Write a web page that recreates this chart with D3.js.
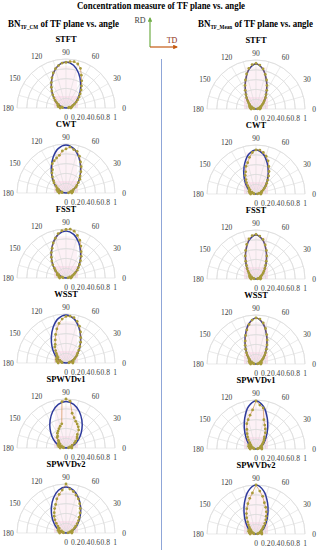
<!DOCTYPE html>
<html><head><meta charset="utf-8">
<script src="https://cdn.jsdelivr.net/npm/d3@7"></script>
<style>body{margin:0;background:#fff}svg{display:block}</style>
</head><body>
<script>
// ---------- data ----------
const methods = ["STFT","CWT","FSST","WSST","SPWVDv1","SPWVDv2"];
const angleTicks = [0,30,60,90,120,150,180];
const radialTicks = [0,0.2,0.4,0.6,0.8,1];
// measured angles (deg) for the dots
const angles = [0,5,10,15,20,25,30,35,40,45,50,55,60,65,70,75,80,85,90,95,100,105,110,115,120,125,130,135,140,145,150,155,160,165,170,175,180];
// fit angles (deg)
const fitAngles = [0,10,20,30,40,50,60,70,80,90,100,110,120,130,140,150,160,170,180];

// Left column: BN_TF_CM
const cmSTFT   = [.10,.05,.12,.07,.15,.19,.24,.29,.35,.41,.48,.55,.64,.74,.86,.93,.96,.95,.93,.92,.88,.83,.76,.68,.60,.52,.45,.38,.32,.27,.22,.17,.18,.09,.16,.07,.12];
const cmCWT    = [.12,.05,.14,.09,.12,.17,.23,.27,.33,.40,.45,.53,.62,.70,.80,.88,.90,.94,.90,.86,.78,.74,.70,.66,.55,.50,.43,.36,.32,.25,.21,.16,.20,.09,.17,.08,.14];
const cmFSST   = [.10,.04,.12,.08,.14,.18,.22,.28,.33,.39,.46,.54,.62,.72,.82,.90,.97,1.0,.99,.97,.92,.84,.76,.67,.60,.52,.45,.38,.31,.26,.21,.16,.19,.09,.15,.06,.13];
const cmWSST   = [.14,.06,.15,.09,.15,.19,.22,.27,.31,.37,.44,.52,.60,.70,.80,.88,.94,.96,.95,.90,.82,.72,.62,.52,.44,.40,.33,.28,.24,.20,.22,.14,.21,.10,.19,.08,.16];
const cmSPWVD1 = [.12,.05,.10,.08,.13,.14,.20,.24,.30,.32,.36,.45,.50,.54,.58,.64,.72,.96,1.0,.95,.50,.46,.42,.38,.35,.30,.28,.22,.19,.15,.18,.10,.17,.06,.15,.05,.12];
const cmSPWVD2 = [.12,.04,.13,.08,.12,.15,.20,.24,.30,.36,.42,.50,.58,.66,.74,.80,.86,.90,1.0,.88,.80,.72,.62,.55,.48,.42,.35,.28,.22,.17,.18,.10,.17,.06,.15,.05,.13];

// Right column: BN_TF_Mean
const mnSTFT   = [.08,.03,.09,.06,.10,.10,.13,.16,.20,.24,.30,.36,.44,.53,.63,.73,.83,.90,.93,.91,.84,.74,.63,.53,.44,.36,.30,.24,.20,.16,.15,.10,.14,.06,.12,.04,.10];
const mnCWT    = [.10,.03,.11,.07,.12,.13,.17,.21,.26,.31,.37,.45,.53,.62,.72,.80,.86,.90,.90,.85,.76,.66,.60,.50,.44,.36,.30,.24,.19,.15,.16,.09,.15,.05,.13,.04,.11];
const mnFSST   = [.09,.03,.10,.05,.09,.10,.12,.15,.19,.23,.28,.34,.42,.52,.62,.72,.82,.88,.91,.89,.83,.73,.62,.52,.42,.34,.28,.23,.19,.15,.15,.10,.14,.05,.12,.04,.10];
const mnWSST   = [.10,.03,.11,.06,.11,.10,.13,.16,.20,.25,.30,.37,.45,.54,.64,.75,.85,.92,.94,.90,.82,.72,.62,.52,.44,.37,.30,.25,.20,.16,.16,.10,.15,.06,.13,.04,.11];
const mnSPWVD1 = [.12,.03,.12,.05,.12,.10,.12,.15,.18,.22,.26,.30,.38,.45,.52,.62,.85,.90,.98,.80,.70,.62,.55,.44,.36,.30,.24,.18,.15,.12,.17,.08,.16,.05,.14,.04,.12];
const mnSPWVD2 = [.12,.03,.12,.05,.11,.09,.12,.14,.18,.22,.28,.35,.42,.50,.58,.66,.78,.88,1.0,.84,.74,.64,.55,.46,.38,.30,.24,.19,.15,.12,.17,.08,.16,.05,.14,.04,.12];

// fitted curves (10 deg steps)
const cmFitSTFT   = [0,.068,.141,.225,.326,.45,.597,.755,.887,.94,.887,.755,.597,.45,.326,.225,.141,.068,0];
const cmFitCWT    = [0,.065,.136,.218,.319,.445,.599,.771,.919,.98,.919,.771,.599,.445,.319,.218,.136,.065,0];
const cmFitFSST   = [0,.066,.138,.220,.322,.447,.598,.765,.905,.96,.905,.765,.598,.447,.322,.220,.138,.066,0];
const cmFitWSST   = [0,.065,.136,.218,.319,.445,.599,.771,.919,.98,.919,.771,.599,.445,.319,.218,.136,.065,0];
const cmFitSPWVD1 = [0,.081,.167,.263,.375,.505,.649,.793,.906,.95,.906,.793,.649,.505,.375,.263,.167,.081,0];
const cmFitSPWVD2 = [0,.068,.141,.225,.326,.45,.597,.755,.887,.94,.887,.755,.597,.45,.326,.225,.141,.068,0];
const mnFitSTFT   = [0,.0375,.079,.130,.199,.295,.432,.620,.822,.92,.822,.620,.432,.295,.199,.130,.079,.0375,0];
const mnFitCWT    = [0,.049,.103,.168,.25,.358,.50,.67,.83,.90,.83,.67,.50,.358,.25,.168,.103,.049,0];
const mnFitFSST   = [0,.036,.076,.126,.193,.287,.422,.607,.805,.90,.805,.607,.422,.287,.193,.126,.076,.036,0];
const mnFitWSST   = [0,.039,.082,.134,.205,.302,.44,.63,.835,.94,.835,.63,.44,.302,.205,.134,.082,.039,0];
const mnFitSPWVD1 = [0,.042,.088,.145,.22,.325,.474,.672,.88,.98,.88,.672,.474,.325,.22,.145,.088,.042,0];
const mnFitSPWVD2 = [0,.044,.092,.150,.228,.335,.485,.685,.895,1.0,.895,.685,.485,.335,.228,.150,.092,.044,0];

const leftData  = [cmSTFT,cmCWT,cmFSST,cmWSST,cmSPWVD1,cmSPWVD2];
const rightData = [mnSTFT,mnCWT,mnFSST,mnWSST,mnSPWVD1,mnSPWVD2];
const leftFit   = [cmFitSTFT,cmFitCWT,cmFitFSST,cmFitWSST,cmFitSPWVD1,cmFitSPWVD2];
const rightFit  = [mnFitSTFT,mnFitCWT,mnFitFSST,mnFitWSST,mnFitSPWVD1,mnFitSPWVD2];

// ---------- drawing ----------
const W = 321, H = 550;
const svg = d3.select("body").append("svg").attr("width", W).attr("height", H);
const serif = "'Liberation Serif','Times New Roman',serif";
const R = 49;
const rScale = d3.scaleLinear().domain([0,1]).range([0,R]);
const toRad = d => (90 - d) * Math.PI / 180;

// main title
svg.append("text").attr("x",161).attr("y",9).attr("text-anchor","middle")
  .attr("font-family",serif).attr("font-weight","bold").attr("font-size",9.5)
  .attr("textLength",168).attr("lengthAdjust","spacingAndGlyphs")
  .text("Concentration measure of TF plane vs. angle");

function subtitle(x, sub, len){
  const t = svg.append("text").attr("x",x).attr("y",27)
    .attr("font-family",serif).attr("font-weight","bold").attr("font-size",9.5)
    .attr("textLength",len).attr("lengthAdjust","spacingAndGlyphs");
  t.append("tspan").text("BN");
  t.append("tspan").attr("font-size",5.5).attr("dy",1.5).text(sub);
  t.append("tspan").attr("dy",-1.5).text(" of TF plane vs. angle");
}
subtitle(8, "TF_CM", 111);
subtitle(198, "TF_Mean", 115);

// RD / TD arrows
const defs = svg.append("defs");
function marker(id, color){
  defs.append("marker").attr("id",id).attr("viewBox","0 0 10 10").attr("refX",8).attr("refY",5)
    .attr("markerWidth",4).attr("markerHeight",4).attr("orient","auto")
    .append("path").attr("d","M0,0L10,5L0,10z").attr("fill",color);
}
marker("ag","#70ad47"); marker("ao","#c55a11");
svg.append("line").attr("x1",150).attr("y1",47).attr("x2",150).attr("y2",18)
  .attr("stroke","#70ad47").attr("stroke-width",1.2).attr("marker-end","url(#ag)");
svg.append("line").attr("x1",150).attr("y1",47).attr("x2",177).attr("y2",47)
  .attr("stroke","#c55a11").attr("stroke-width",1.2).attr("marker-end","url(#ao)");
svg.append("text").attr("x",140).attr("y",23).attr("text-anchor","middle")
  .attr("font-family",serif).attr("font-size",8).style("fill","#404040").text("RD");
svg.append("text").attr("x",172).attr("y",43).attr("text-anchor","middle")
  .attr("font-family",serif).attr("font-size",8).style("fill","#8b2d10").text("TD");

// divider
svg.append("line").attr("x1",161.5).attr("x2",161.5).attr("y1",59).attr("y2",550)
  .attr("stroke","#8fa6d8").attr("stroke-width",1);

const arc = d3.arc();
const fitLine = d3.lineRadial().angle((d,i)=>toRad(fitAngles[i])).radius(d=>rScale(d)).curve(d3.curveCatmullRom);
const dataLine = d3.lineRadial().angle((d,i)=>toRad(angles[i])).radius(d=>rScale(d));

function panel(cx, cy, title, data, fit){
  const g = svg.append("g").attr("transform",`translate(${cx},${cy})`);
  // faint pink shading
  g.append("rect").attr("x",-11).attr("y",-R*0.85).attr("width",22).attr("height",R*0.85)
    .attr("fill","#fdf1f6");
  g.append("rect").attr("x",-12).attr("y",-12).attr("width",24).attr("height",12)
    .attr("fill","#fbe1ed");
  // grid arcs
  radialTicks.filter(d=>d>0).forEach(t=>{
    g.append("path").attr("d", arc({innerRadius:rScale(t), outerRadius:rScale(t), startAngle:-Math.PI/2, endAngle:Math.PI/2}))
      .attr("fill","none").attr("stroke","#dcdcdc").attr("stroke-width",0.7);
  });
  d3.range(0,181,15).forEach(a=>{
    g.append("line").attr("x1",0).attr("y1",0)
      .attr("x2",rScale(1)*Math.cos(a*Math.PI/180)).attr("y2",-rScale(1)*Math.sin(a*Math.PI/180))
      .attr("stroke","#dcdcdc").attr("stroke-width",0.6);
  });
  // angle labels
  angleTicks.forEach(a=>{
    const rr = R + (a===90?7:(a===0||a===180?9:10));
    g.append("text").attr("x",rr*Math.cos(a*Math.PI/180)).attr("y",-rr*Math.sin(a*Math.PI/180)+2.5)
      .attr("text-anchor","middle").attr("font-family",serif).attr("font-size",7.5).style("fill","#404040")
      .text(a);
  });
  // radial labels
  radialTicks.forEach(t=>{
    g.append("text").attr("x",rScale(t)).attr("y",12).attr("text-anchor","middle")
      .attr("font-family",serif).attr("font-size",7.5).style("fill","#404040")
      .text(d3.format("~g")(t));
  });
  // title
  g.append("text").attr("x",0).attr("y",-66).attr("text-anchor","middle")
    .attr("font-family",serif).attr("font-weight","bold").attr("font-size",8.5).text(title);
  // fit
  g.append("path").attr("d",fitLine(fit)).attr("fill","none").attr("stroke","#2e3a9c").attr("stroke-width",1.5);
  // data
  g.append("path").attr("d",dataLine(data)).attr("fill","none").attr("stroke","#c8772a")
    .attr("stroke-width",0.8).attr("stroke-opacity",0.7);
  g.selectAll("circle.d").data(data).join("circle")
    .attr("cx",(d,i)=>rScale(d)*Math.cos(angles[i]*Math.PI/180))
    .attr("cy",(d,i)=>-rScale(d)*Math.sin(angles[i]*Math.PI/180))
    .attr("r",1.4).attr("fill","#a79b3a");
}

methods.forEach((m,i)=>{
  panel(66, 108 + i*85, m, leftData[i], leftFit[i]);
  panel(256, 109 + i*85, m, rightData[i], rightFit[i]);
});
</script>
</body></html>
